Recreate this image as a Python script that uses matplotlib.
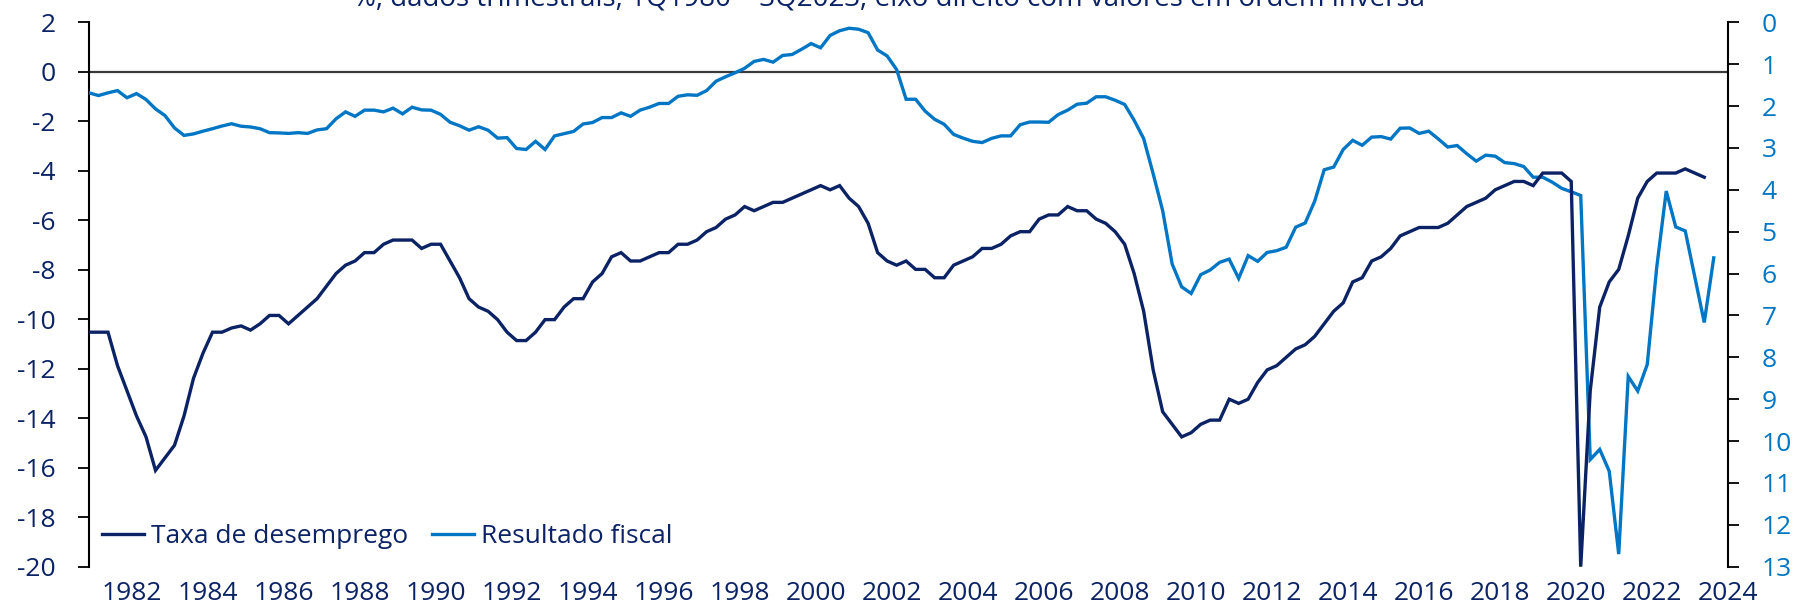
import matplotlib
matplotlib.use("Agg")
import matplotlib.pyplot as plt
import numpy as np

plt.rcParams['font.family'] = ['Open Sans', 'DejaVu Sans']
plt.rcParams['axes.unicode_minus'] = False

# Dados trimestrais, 1T1981 em diante
# Taxa de desemprego (%), eixo direito invertido
desemprego = [
    7.4, 7.4, 7.4, 8.2,      # 1981
    8.8, 9.4, 9.9, 10.7,     # 1982
    10.4, 10.1, 9.4, 8.5,    # 1983
    7.9, 7.4, 7.4, 7.3,      # 1984
    7.25, 7.35, 7.2, 7.0,    # 1985
    7.0, 7.2, 7.0, 6.8,      # 1986
    6.6, 6.3, 6.0, 5.8,      # 1987
    5.7, 5.5, 5.5, 5.3,      # 1988
    5.2, 5.2, 5.2, 5.4,      # 1989
    5.3, 5.3, 5.7, 6.1,      # 1990
    6.6, 6.8, 6.9, 7.1,      # 1991
    7.4, 7.6, 7.6, 7.4,      # 1992
    7.1, 7.1, 6.8, 6.6,      # 1993
    6.6, 6.2, 6.0, 5.6,      # 1994
    5.5, 5.7, 5.7, 5.6,      # 1995
    5.5, 5.5, 5.3, 5.3,      # 1996
    5.2, 5.0, 4.9, 4.7,      # 1997
    4.6, 4.4, 4.5, 4.4,      # 1998
    4.3, 4.3, 4.2, 4.1,      # 1999
    4.0, 3.9, 4.0, 3.9,      # 2000
    4.2, 4.4, 4.8, 5.5,      # 2001
    5.7, 5.8, 5.7, 5.9,      # 2002
    5.9, 6.1, 6.1, 5.8,      # 2003
    5.7, 5.6, 5.4, 5.4,      # 2004
    5.3, 5.1, 5.0, 5.0,      # 2005
    4.7, 4.6, 4.6, 4.4,      # 2006
    4.5, 4.5, 4.7, 4.8,      # 2007
    5.0, 5.3, 6.0, 6.9,      # 2008
    8.3, 9.3, 9.6, 9.9,      # 2009
    9.8, 9.6, 9.5, 9.5,      # 2010
    9.0, 9.1, 9.0, 8.6,      # 2011
    8.3, 8.2, 8.0, 7.8,      # 2012
    7.7, 7.5, 7.2, 6.9,      # 2013
    6.7, 6.2, 6.1, 5.7,      # 2014
    5.6, 5.4, 5.1, 5.0,      # 2015
    4.9, 4.9, 4.9, 4.8,      # 2016
    4.6, 4.4, 4.3, 4.2,      # 2017
    4.0, 3.9, 3.8, 3.8,      # 2018
    3.9, 3.6, 3.6, 3.6,      # 2019
    3.8, 13.0, 8.8, 6.8,     # 2020
    6.2, 5.9, 5.1, 4.2,      # 2021
    3.8, 3.6, 3.6, 3.6,      # 2022
    3.5, 3.6, 3.7,           # 2023
]

# Resultado fiscal (% do PIB), eixo esquerdo
resultado_fiscal = [
    -0.85, -0.96, -0.85, -0.76,     # 1981
    -1.05, -0.88, -1.12, -1.50,     # 1982
    -1.77, -2.27, -2.57, -2.51,     # 1983
    -2.40, -2.30, -2.19, -2.10,     # 1984
    -2.20, -2.23, -2.30, -2.46,     # 1985
    -2.47, -2.49, -2.46, -2.49,     # 1986
    -2.35, -2.30, -1.90, -1.62,     # 1987
    -1.80, -1.55, -1.55, -1.62,     # 1988
    -1.47, -1.70, -1.43, -1.54,     # 1989
    -1.55, -1.72, -2.04, -2.18,     # 1990
    -2.36, -2.22, -2.36, -2.68,     # 1991
    -2.66, -3.10, -3.14, -2.81,     # 1992
    -3.14, -2.59, -2.50, -2.41,     # 1993
    -2.11, -2.05, -1.85, -1.85,     # 1994
    -1.66, -1.80, -1.55, -1.43,     # 1995
    -1.28, -1.28, -0.99, -0.93,     # 1996
    -0.95, -0.76, -0.38, -0.20,     # 1997
    -0.04, 0.14, 0.42, 0.50,        # 1998
    0.39, 0.66, 0.70, 0.91,         # 1999
    1.14, 0.97, 1.47, 1.66,         # 2000
    1.76, 1.72, 1.58, 0.88,         # 2001
    0.64, 0.09, -1.11, -1.11,       # 2002
    -1.59, -1.92, -2.12, -2.53,     # 2003
    -2.68, -2.81, -2.86, -2.69,     # 2004
    -2.59, -2.59, -2.14, -2.03,     # 2005
    -2.03, -2.04, -1.73, -1.55,     # 2006
    -1.31, -1.27, -1.01, -1.01,     # 2007
    -1.15, -1.32, -1.96, -2.70,     # 2008
    -4.12, -5.61, -7.77, -8.69,     # 2009
    -8.96, -8.20, -8.01, -7.70,     # 2010
    -7.57, -8.35, -7.43, -7.66,     # 2011
    -7.30, -7.23, -7.09, -6.28,     # 2012
    -6.11, -5.23, -3.96, -3.85,     # 2013
    -3.14, -2.77, -2.97, -2.64,     # 2014
    -2.62, -2.72, -2.28, -2.27,     # 2015
    -2.49, -2.40, -2.71, -3.04,     # 2016
    -2.98, -3.31, -3.61, -3.37,     # 2017
    -3.41, -3.67, -3.71, -3.83,     # 2018
    -4.26, -4.26, -4.46, -4.71,     # 2019
    -4.85, -5.00, -15.67, -15.26,   # 2020
    -16.14, -19.49, -12.31, -12.90, # 2021
    -11.83, -7.90, -4.82, -6.27,    # 2022
    -6.43, -8.28, -10.13, -7.52,    # 2023
]

anos_rotulo = list(range(1982, 2025, 2))
titulo = "%, dados trimestrais, 1Q1980 \u2013 3Q2023; eixo direito com valores em ordem inversa"

azul_escuro = '#0B2265'
azul_claro = '#0076C4'

W, H = 1817, 611
fig = plt.figure(figsize=(W / 100, H / 100), dpi=100)
x0, x1, ytop, ybot = 89, 1728, 22.3, 566.7
ax = fig.add_axes([x0 / W, (H - ybot) / H, (x1 - x0) / W, (ybot - ytop) / H])
ax2 = ax.twinx()

# eixo esquerdo: resultado fiscal
ax.axhline(0, color='#3a3a3a', lw=1.6, zorder=1)
l_fiscal, = ax.plot(np.arange(len(resultado_fiscal)), resultado_fiscal,
                    color=azul_claro, lw=2.4, solid_joinstyle='miter', zorder=3)
ax.set_ylim(-20, 2)
ax.set_yticks(np.arange(-20, 3, 2))
ax.set_xlim(0, 172.5)
ax.set_xticks([4 * (a - 1981) + 0.5 for a in anos_rotulo])
ax.set_xticklabels([str(a) for a in anos_rotulo])

# eixo direito invertido: desemprego
l_desemp, = ax2.plot(np.arange(len(desemprego)), desemprego,
                     color=azul_escuro, lw=2.4, solid_joinstyle='miter')
ax2.set_ylim(13, 0)
ax2.set_yticks(np.arange(0, 14, 1))

for s in ['top', 'bottom', 'right']:
    ax.spines[s].set_visible(False)
for s in ['top', 'bottom', 'left']:
    ax2.spines[s].set_visible(False)
ax.spines['left'].set_linewidth(1.5)
ax2.spines['right'].set_linewidth(1.5)

ax.tick_params(axis='y', direction='out', length=8, width=1.3, pad=16,
               labelsize=19, labelcolor=azul_escuro)
ax.tick_params(axis='x', length=0, pad=10, labelsize=19, labelcolor=azul_escuro)
ax2.tick_params(axis='y', direction='out', length=8, width=1.3, pad=16,
                labelsize=19, labelcolor=azul_claro)

ax2.legend([l_desemp, l_fiscal], ['Taxa de desemprego', 'Resultado fiscal'],
           loc='center left', bbox_to_anchor=(0.008, 0.055), ncol=2,
           frameon=False, fontsize=19, labelcolor=azul_escuro,
           handlelength=1.6, handletextpad=0.25, columnspacing=0.9,
           borderpad=0, borderaxespad=0)

fig.text(0.489, 1 - 5 / H, titulo, ha='center', va='baseline',
         fontsize=20, color=azul_escuro)

fig.savefig('out.png', dpi=100)
